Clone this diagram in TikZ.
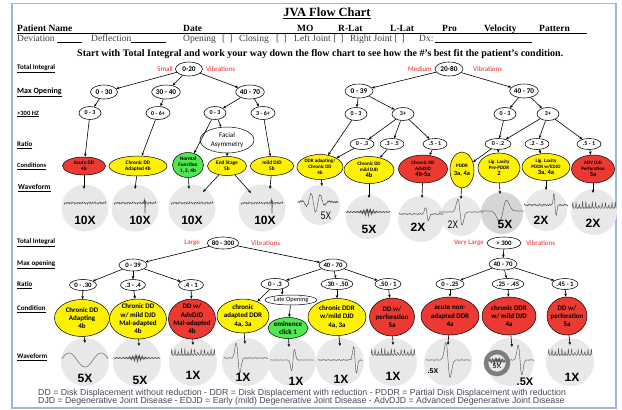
\documentclass[tikz,border=0pt]{standalone}
\usepackage{fontspec}
\setmainfont{Liberation Serif}
\newfontfamily\calf{Carlito}
\newfontfamily\arialf{Liberation Sans}
\usetikzlibrary{shapes.geometric,arrows.meta,calc}
\definecolor{cred}{RGB}{236,58,50}
\definecolor{cyel}{RGB}{255,242,0}
\definecolor{cgrn}{RGB}{80,232,80}
\definecolor{lred}{RGB}{235,40,40}
\definecolor{wfg}{RGB}{232,232,232}
\definecolor{wfd}{RGB}{214,214,214}
\definecolor{framec}{RGB}{160,180,225}
\definecolor{legc}{RGB}{70,72,90}
\definecolor{ringc}{RGB}{125,125,125}
\newcommand\wvflat[2]{\draw[wv,shift={(#1,#2)}] plot[domain=-21:21,samples=90] (\x,{0.6*sin(\x*173)+0.5*sin(\x*311)+0.3*sin(\x*67)});}
\newcommand\wvspike[3]{\wvflat{#1}{#2}\draw[wv,shift={(#1,#2)}] (#3-1.5,0) -- (#3-0.5,-4) -- (#3,11) -- (#3+0.6,-2) -- (#3+1.5,0);}
\newcommand\wvbiph[6]{\draw[wv,shift={(#1,#2)}] plot[domain=-22:22,samples=150] (\x,{#6*(0.6*sin(\x*173)+0.4*sin(\x*71))-(#4)*((\x-(#3))/#5)*exp(-min(((\x-(#3))/#5)^2,20))});}
\newcommand\wvcomb[2]{\draw[wv,shift={(#1,#2)}] plot[domain=-22:22,samples=230] (\x,{0.5*sin(\x*230)-(3+3*abs(sin(\x*37)))*(abs(sin(\x*55)))^12});}
\newcommand\wvslow[2]{\draw[wv,shift={(#1,#2)}] plot[domain=-23:23,samples=80,smooth] (\x,{7*cos(\x*11.25)});}
\newcommand\wvburst[3]{\draw[wv,shift={(#1,#2)}] plot[domain=-#3:#3,samples=200] (\x,{(0.5+2.3*exp(-min((\x/6)^2,20)))*(sin(\x*250)+0.6*sin(\x*113+40))});}
\newcommand\wvbig[2]{\draw[wv,shift={(#1,#2)}] plot[domain=-20:20,samples=160] (\x,{-10*sin(\x*38)*exp(-min(((\x+3)/9)^2,20))+0.8*sin(\x*210)});}
\begin{document}
\begin{tikzpicture}[x=1pt,y=-1pt,
 ar/.style={-{Stealth[length=3.2pt,width=2.6pt]},line width=0.6pt},
 tn/.style={ellipse,draw,line width=0.55pt,fill=white,inner sep=0pt,minimum width=27pt,minimum height=14pt,font=\calf\bfseries\fontsize{7.3}{8}\selectfont},
 tns/.style={tn,minimum width=22pt,minimum height=13pt,font=\calf\bfseries\fontsize{6}{7}\selectfont},
 rt/.style={tn,minimum width=26pt,minimum height=11pt,font=\calf\bfseries\fontsize{6}{7}\selectfont},
 rt2/.style={rt,font=\calf\bfseries\fontsize{6.8}{7}\selectfont},
 cd/.style={ellipse,draw,line width=0.5pt,inner sep=-3pt,align=center,font=\calf\bfseries\fontsize{5.3}{6.2}\selectfont},
 cdm/.style={cd,font=\calf\bfseries\fontsize{5}{6}\selectfont},
 cdl/.style={ellipse,draw,line width=0.5pt,inner sep=-5pt,align=center,font=\calf\bfseries\fontsize{7}{8.3}\selectfont},
 rl/.style={text=lred,inner sep=0pt,font=\calf\fontsize{7}{8}\selectfont},
 lab/.style={anchor=west,inner sep=0pt,font=\calf\bfseries\fontsize{6.5}{7}\selectfont},
 wf/.style={circle,fill=wfg,inner sep=0pt},
 mx/.style={inner sep=0pt,font=\arialf\bfseries\fontsize{12}{12}\selectfont},
 mxn/.style={inner sep=0pt,font=\arialf\fontsize{11}{11}\selectfont},
 wv/.style={line width=0.4pt,draw=black!70},
 hd/.style={anchor=base west,inner sep=0pt,font=\bfseries\fontsize{9.5}{11}\selectfont},
 hr/.style={anchor=base west,inner sep=0pt,text=black!75,font=\fontsize{9.5}{11}\selectfont}]
\useasboundingbox (0,0) rectangle (622,410);
\fill[white] (0,0) rectangle (622,410);
\draw[framec,line width=1.2pt] (12,3.5) rectangle (616,408);
% header
\node[inner sep=0pt,font=\bfseries\fontsize{12.5}{14}\selectfont] (title) at (327,13) {\underline{JVA Flow Chart}};
\node[hd] (h1) at (17,31) {Patient Name};
\node[hd] (h2) at (183,31) {Date};
\node[hd] (h3) at (297,31) {MO};
\node[hd] (h4) at (338,31) {R-Lat};
\node[hd] (h5) at (390,31) {L-Lat};
\node[hd] (h6) at (442,31) {Pro};
\node[hd] (h7) at (484,31) {Velocity};
\node[hd] (h8) at (539,31) {Pattern};
\draw[line width=0.7pt] (17,33.3) -- (587,33.3);
\node[hr] (r1) at (17,41) {Deviation};
\draw[line width=0.4pt] (57,41.8) -- (82,41.8);
\node[hr] (r2) at (91,41) {Deflection};
\draw[line width=0.4pt] (131,41.8) -- (166,41.8);
\node[hr] (r3) at (183,41) {Opening};
\node[hr] (r4) at (222,41) {[ \,]};
\node[hr] (r5) at (239,41) {Closing};
\node[hr] (r6) at (276,41) {[ \,]};
\node[hr] (r7) at (294,41) {Left Joint [ \,]};
\node[hr] (r8) at (350,41) {Right Joint [ \,]};
\node[hr] (r9) at (419,41) {Dx:};
\draw[line width=0.4pt] (435,41.8) -- (532,41.8);
\node[anchor=base west,inner sep=0pt,font=\bfseries\fontsize{10}{11}\selectfont] (intro) at (77,56.5) {Start with Total Integral and work your way down the flow chart to see how the \#'s best fit the patient's condition.};
% row labels section 1
\node[lab,font=\calf\bfseries\fontsize{7}{8}\selectfont] (L1) at (17,69) {\underline{Total Integral}};
\node[lab,font=\calf\bfseries\fontsize{8}{9}\selectfont] (L2) at (17,92) {\underline{Max Opening}};
\node[lab] (L3) at (17,114) {\underline{>300 HZ}};
\node[lab,font=\calf\bfseries\fontsize{7}{8}\selectfont] (L4) at (17,145) {\underline{Ratio}};
\node[lab] (L5) at (17,166) {\underline{Conditions}};
\node[lab,font=\calf\bfseries\fontsize{7.5}{8}\selectfont] (L6) at (18,188) {\underline{Waveform}};
% row labels section 2
\node[lab,font=\calf\bfseries\fontsize{7}{8}\selectfont] (K1) at (17,243) {\underline{Total Integral}};
\node[lab,font=\calf\bfseries\fontsize{7}{8}\selectfont] (K2) at (17,265) {\underline{Max opening}};
\node[lab,font=\calf\bfseries\fontsize{7}{8}\selectfont] (K3) at (17,285) {\underline{Ratio}};
\node[lab,font=\calf\bfseries\fontsize{7}{8}\selectfont] (K4) at (17,309) {\underline{Condition}};
\node[lab,font=\calf\bfseries\fontsize{7}{8}\selectfont] (K5) at (17,357) {\underline{Waveform}};
% waveform circles
\node[wf,minimum size=47pt] (w1) at (85,208) {};
\node[wf,minimum size=47pt] (w2) at (135,208) {};
\node[wf,minimum size=47pt] (w3) at (192,208) {};
\node[wf,minimum size=47pt] (w4) at (262,208) {};
\node[wf,minimum size=40pt] (w5) at (320,205) {};
\node[wf,minimum size=44pt] (w6) at (368,217) {};
\node[wf,minimum size=46pt] (w7) at (421,219) {};
\node[wf,minimum size=40pt] (w8) at (461,216) {};
\node[wf,minimum size=42pt,fill=wfd] (w9) at (502,213) {};
\node[wf,minimum size=42pt] (w10) at (546,210) {};
\node[wf,minimum size=46pt] (w11) at (594,212) {};
\foreach \i/\xx in {1/85,2/137,3/193,4/246,5/292,6/340,7/393,8/448,9/510,10/570}{
 \node[wf,minimum size=48pt] (z\i) at (\xx,362) {};}
% waveforms
\wvflat{85}{203}
\wvspike{135}{203}{10}
\wvflat{192}{203}
\wvspike{262}{203}{10}
\wvbig{318}{202}
\wvburst{368}{212}{22}
\wvbiph{421}{214}{6}{-15}{2}{0.7}
\wvbiph{461}{212}{-1}{-30}{3}{0.4}
\wvbiph{502}{211}{1}{25}{5}{0.3}
\wvbiph{546}{205}{9}{-25}{1.5}{1.2}
\wvcomb{594}{208}
\wvslow{85}{360}
\wvburst{137}{358}{23}
\wvcomb{193}{355}
\wvbiph{246}{358}{-8}{-35}{2.5}{0.5}
\wvbiph{292}{360}{1}{25}{2}{0.3}
\wvbiph{340}{360}{15}{-30}{2}{0.6}
\wvcomb{393}{355}
\wvbiph{448}{360}{0}{-40}{3}{0.4}
\wvbiph{512}{360}{8}{-35}{2.5}{0.4}
\wvcomb{570}{355}
\draw[ringc,line width=4.5pt] (497,363) circle (11);
\wvburst{497}{361}{8}
% multipliers
\foreach \xx in {85,140,192,265}{\node[mx] at (\xx,220) {10X};}
\node[mxn] at (326,216) {\scalebox{0.75}[1]{5X}};
\node[mx] at (369,229) {5X};
\node[mx] at (418,227) {2X};
\node[mxn] at (453,225) {\scalebox{0.75}[1]{2X}};
\node[mx] at (505,224) {5X};
\node[mx] at (541,220) {2X};
\node[mx] at (593,223) {2X};
\node[mx] at (85,378) {5X};
\node[mx] at (140,380) {5X};
\node[mx] at (193,375) {1X};
\node[mx] at (243,377) {1X};
\node[mx] at (296,381) {1X};
\node[mx] at (341,379) {1X};
\node[mx] at (393,376) {1X};
\node[inner sep=0pt,font=\arialf\bfseries\fontsize{7}{7}\selectfont] at (433,371) {.5X};
\node[inner sep=0pt,font=\arialf\fontsize{7}{7}\selectfont] at (497,366) {5X};
\node[mx,font=\arialf\bfseries\fontsize{11}{11}\selectfont] at (525,382) {.5X};
\node[mx] at (572,377) {1X};
% ---- section 1 small
\node[rl,anchor=east] at (173,69) {Small};
\node[tn] (s0) at (189,69) {0-20};
\node[rl,anchor=west] at (206,69) {Vibrations};
\node[tn] (s1) at (104,92) {0 - 30};
\node[tn] (s2) at (166,92) {30 - 40};
\node[tn] (s3) at (250,92) {40 - 70};
\node[tns] (s11) at (90,113) {0 - 3};
\node[tns,minimum width=24pt] (s21) at (158,113) {0 - 6+};
\node[tns] (s31) at (215,113) {0 - 3};
\node[tns,minimum width=24pt] (s32) at (263,113) {3 - 6+};
\node[ellipse,draw,line width=0.5pt,fill=white,inner sep=0pt,minimum width=54pt,minimum height=26pt,align=center,font=\calf\fontsize{7}{8.5}\selectfont] (sfa) at (227,140) {Facial\\Asymmetry};
\node[cd,fill=cred,minimum width=43pt,minimum height=18pt] (sc1) at (84,166) {Acute DD\\4b};
\node[cd,fill=cyel,minimum width=58pt,minimum height=20pt] (sc2) at (138,166) {Chronic DD\\Adapted 4b};
\node[cd,fill=cgrn,minimum width=31pt,minimum height=25pt] (sc3) at (188,165) {Normal\\Function\\1, 2, 4b};
\node[cd,fill=cyel,minimum width=39pt,minimum height=19pt] (sc4) at (227,166) {End Stage\\5b};
\node[cd,fill=cyel,minimum width=43pt,minimum height=19pt] (sc5) at (272,166) {mild DJD\\5b};
\foreach \a/\b in {s0/s1,s0/s2,s0/s3,s1/s11,s2/s21,s3/s31,s3/s32,s11/sc1,s21/sc2,s31/sc3,s31/sfa,sfa/sc4,s32/sc5}{\draw[ar] (\a) -- (\b);}
\coordinate (ts1) at (84,189);
\coordinate (ts2) at (135,189);
\coordinate (ts3) at (189,189);
\coordinate (ts4a) at (203,192);
\coordinate (ts4b) at (251,193);
\coordinate (ts5) at (270,189);
\draw[ar] (sc1) -- (ts1);
\draw[ar] (sc2) -- (ts2);
\draw[ar] (sc3) -- (ts3);
\draw[ar] (sc4) -- (ts4a);
\draw[ar] (sc4) -- (ts4b);
\draw[ar] (sc5) -- (ts5);
% ---- section 1 medium
\node[rl,anchor=east] at (432,69) {Medium};
\node[tn,minimum width=28pt] (m0) at (449,69) {20-80};
\node[rl,anchor=west] at (473,69) {Vibrations};
\node[tn,minimum width=28pt] (m1) at (359,91) {0 - 39};
\node[tn,minimum width=28pt] (m2) at (524,91) {40 - 70};
\node[tns] (m11) at (356,114) {0 - 3};
\node[tns] (m12) at (403,114) {3+};
\node[tns] (m21) at (505,114) {0 - 3};
\node[tns] (m22) at (548,114) {3+};
\node[rt,minimum width=24pt] (m121) at (362,144) {0 - .3};
\node[rt,minimum width=24pt] (m122) at (392,144) {.3 - .5};
\node[rt,minimum width=24pt] (m123) at (435,144) {.5 - 1};
\node[rt,minimum width=26pt] (m211) at (498,144) {0 - .2};
\node[rt,minimum width=24pt] (m221) at (537,144) {.2 - .5};
\node[rt,minimum width=24pt] (m222) at (589,144) {.5 - 1};
\node[cdm,fill=cyel,minimum width=46pt,minimum height=25pt] (mc1) at (320,167) {DDR adapting/\\Chronic DD\\4b};
\node[cdm,fill=cyel,minimum width=50pt,minimum height=27pt] (mc2) at (369,170) {Chronic DD\\mild DJD\\{\fontsize{6.5}{7}\selectfont 4b}};
\node[cdm,fill=cred,minimum width=49pt,minimum height=28pt] (mc3) at (423,169) {Chronic DD\\AdvDJD\\{\fontsize{6.5}{7}\selectfont 4b-5a}};
\node[cdm,fill=cyel,minimum width=24pt,minimum height=36pt] (mc4) at (462,170) {PDDR\\[2pt]{\fontsize{6.5}{7}\selectfont 3a, 4a}};
\node[cdm,fill=cyel,minimum width=42pt,minimum height=30pt] (mc5) at (499,168) {Lig. Laxity\\Pre-PDDR\\{\fontsize{6.5}{7}\selectfont 2}};
\node[cdm,fill=cyel,minimum width=48pt,minimum height=27pt] (mc6) at (546,167) {Lig. Laxity\\PDDR w/EDJD\\{\fontsize{6.5}{7}\selectfont 3a, 4a}};
\node[cdm,fill=cred,minimum width=43pt,minimum height=28pt] (mc7) at (593,169) {ADV DJD\\Perforation\\{\fontsize{6.5}{7}\selectfont 5a}};
\foreach \a/\b in {m0/m1,m0/m2,m1/m11,m1/m12,m11/mc1,m12/m121,m12/m122,m12/m123,m121/mc1,m122/mc2,m123/mc3,m2/m21,m2/m22,m21/m211,m22/m211,m22/m221,m22/m222,m211/mc4,m211/mc5,m221/mc6,m222/mc7}{\draw[ar] (\a) -- (\b);}
\coordinate (tm1) at (322,186);
\coordinate (tm2) at (369,198);
\coordinate (tm3) at (422,198);
\coordinate (tm4) at (461,199);
\coordinate (tm5) at (500,194);
\coordinate (tm6) at (546,190);
\coordinate (tm7) at (593,193);
\foreach \i in {1,...,7}{\draw[ar] (mc\i) -- (tm\i);}
% ---- section 2 large
\node[rl,anchor=east] at (200,243) {Large};
\node[rt2,minimum width=30pt,minimum height=12pt] (l0) at (223,243) {80 - 300};
\node[rl,anchor=west] at (251,243) {Vibrations};
\node[rt2,minimum width=28pt,minimum height=12pt] (l1) at (133,265) {0 - 39};
\node[rt2,minimum width=28pt,minimum height=12pt] (l2) at (333,265) {40 - 70};
\node[rt2,minimum width=27pt] (l11) at (83,285) {0 - .30};
\node[rt2,minimum width=25pt] (l12) at (133,285) {.3 - .4};
\node[rt2,minimum width=25pt] (l13) at (191,285) {.4 - 1};
\node[rt2,minimum width=28pt] (l21) at (275,284) {0 - .3};
\node[rt2,minimum width=30pt] (l22) at (337,284) {.30 - .50};
\node[rt2,minimum width=26pt] (l23) at (388,284) {.50 - 1};
\node[ellipse,draw,line width=0.5pt,fill=white,inner sep=0pt,minimum width=52pt,minimum height=10pt,font=\calf\fontsize{6.5}{7}\selectfont] (llo) at (291,300) {Late Opening};
\node[cdl,fill=cyel,minimum width=55pt,minimum height=37pt] (lc1) at (82,318) {Chronic DD\\Adapting\\4b};
\node[cdl,fill=cyel,minimum width=57pt,minimum height=40pt] (lc2) at (138,319) {Chronic DD\\w/ mild DJD\\Mal-adapted\\4b};
\node[cdl,fill=cred,minimum width=47pt,minimum height=40pt] (lc3) at (192,319) {DD w/\\AdvDJD\\Mal-adapted\\4b};
\node[cdl,fill=cyel,minimum width=52pt,minimum height=34pt] (lc4) at (243,316) {chronic\\adapted DDR\\4a, 3a};
\node[cdl,fill=cgrn,minimum width=40pt,minimum height=21pt] (lc5) at (288,328) {eminence\\click 1};
\node[cdl,fill=cyel,minimum width=58pt,minimum height=37pt] (lc6) at (337,317) {chronic DDR\\w/mild DJD\\4a, 3a};
\node[cdl,fill=cred,minimum width=45pt,minimum height=38pt] (lc7) at (392,317) {DD w/\\perforation\\5a};
% ---- section 2 very large
\node[rl,anchor=east] at (484,243) {Very Large};
\node[rt2,minimum width=34pt,minimum height=12pt] (v0) at (504,243) {> 300};
\node[rl,anchor=west] at (526,243) {Vibrations};
\node[rt2,minimum width=28pt,minimum height=12pt] (v1) at (503,264) {40 - 70};
\node[rt2,minimum width=28pt] (v11) at (450,284) {0 - .25};
\node[rt2,minimum width=30pt] (v12) at (508,284) {.25 - .45};
\node[rt2,minimum width=26pt] (v13) at (565,284) {.45 - 1};
\node[cdl,fill=cred,minimum width=58pt,minimum height=38pt] (vc1) at (450,316) {acute non-\\adapted DDR\\4a};
\node[cdl,fill=cred,minimum width=54pt,minimum height=38pt] (vc2) at (509,316) {chronic DDR\\w/ mild DJD\\4a};
\node[cdl,fill=cred,minimum width=40pt,minimum height=38pt] (vc3) at (567,316) {DD w/\\perforation\\5a};
\foreach \a/\b in {l0/l1,l0/l2,l1/l11,l1/l12,l1/l13,l11/lc1,l12/lc2,l13/lc3,l2/l21,l2/l22,l2/l23,l21/lc4,llo/lc5,l22/lc6,l23/lc7,v0/v1,v1/v11,v1/v12,v1/v13,v11/vc1,v12/vc2,v13/vc3}{\draw[ar] (\a) -- (\b);}
\draw[ar] (l21.-35) -- (l21.-35 |- llo.north);
\coordinate (tz1) at (85,343);
\coordinate (tz2) at (139,346);
\coordinate (tz3) at (193,345);
\coordinate (tz4) at (245,344);
\coordinate (tz5) at (289,347);
\coordinate (tz6) at (340,346);
\coordinate (tz7) at (393,345);
\coordinate (tz8) at (448,345);
\coordinate (tz9) at (512,347);
\coordinate (tz10) at (570,345);
\foreach \a/\b in {lc1/tz1,lc2/tz2,lc3/tz3,lc4/tz4,lc5/tz5,lc6/tz6,lc7/tz7,vc1/tz8,vc2/tz9,vc3/tz10}{\draw[ar] (\a) -- (\b);}
% legend
\node[anchor=base west,inner sep=0pt,text=legc,font=\arialf\fontsize{8.75}{9}\selectfont] (lg1) at (38,395) {DD = Disk Displacement without reduction - DDR = Disk Displacement with reduction - PDDR = Partial Disk Displacement with reduction};
\node[anchor=base west,inner sep=0pt,text=legc,font=\arialf\fontsize{8.75}{9}\selectfont] (lg2) at (38,403.5) {DJD = Degenerative Joint Disease - EDJD = Early (mild) Degenerative Joint Disease - AdvDJD = Advanced Degenerative Joint Disease};
\end{tikzpicture}
\end{document}
